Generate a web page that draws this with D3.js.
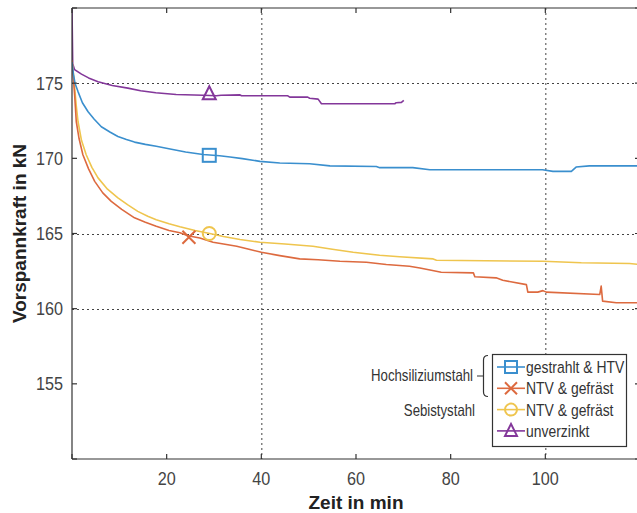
<!DOCTYPE html>
<html>
<head>
<meta charset="utf-8">
<script src="https://cdn.jsdelivr.net/npm/d3@7"></script>
<style>
  body { margin: 0; background: #fff; }
  svg { display: block; font-family: "Liberation Sans", Arial, sans-serif; }
</style>
</head>
<body>
<div class="chart"></div>
<script>
// Messwerte: [Zeit in min, Vorspannkraft in kN]
var gestrahltHTV = [[0,176.4],[0.3,175.6],[0.63,175.0],[1.27,174.44],[2.2,173.7],[3.4,173.1],[4.7,172.6],[6.2,172.1],[8,171.75],[9.7,171.45],[11.5,171.25],[13.2,171.08],[15.5,170.93],[17.8,170.8],[21,170.6],[24,170.42],[27.7,170.25],[31.2,170.17],[33.4,170.09],[36,169.98],[39.7,169.8],[43.9,169.69],[50.2,169.64],[54.5,169.5],[64.3,169.46],[65,169.38],[72,169.38],[75.6,169.24],[99.4,169.24],[101.6,169.13],[105.5,169.13],[106.5,169.42],[109.3,169.5],[120,169.5]]
var ntvHoch = [[0,176.5],[0.3,175.3],[0.56,174.2],[0.9,172.45],[1.5,171.3],[2.3,170.24],[3.5,169.3],[4.8,168.47],[6.5,167.7],[8.3,167.14],[10.5,166.6],[13.2,166.04],[15.5,165.75],[17.8,165.48],[20.5,165.2],[22.8,165.05],[24.5,164.85],[27,164.7],[29.8,164.42],[32,164.3],[34.8,164.15],[37.6,163.93],[40,163.75],[43.9,163.53],[48.1,163.31],[52,163.25],[56.6,163.15],[62.2,163.09],[66.4,162.94],[71.3,162.82],[73.5,162.71],[75.9,162.55],[78,162.42],[84.8,162.38],[85.1,162.12],[89.6,162.05],[91,161.89],[96,161.6],[96.3,161.1],[98.4,161.1],[99.5,161.2],[100.2,161.1],[111.5,160.94],[111.8,161.5],[112.1,160.5],[115,160.39],[120,160.39]]
var ntvSebisty = [[0,176.5],[0.3,175.6],[0.56,174.7],[0.9,173.5],[1.27,172.45],[2,171.2],[3,170.24],[4.2,169.4],[5.5,168.7],[7.5,167.95],[9.7,167.37],[11.8,166.9],[13.9,166.47],[16,166.15],[17.8,165.92],[20.5,165.65],[22.8,165.45],[26,165.2],[29.1,165.0],[32,164.8],[35.5,164.6],[39.7,164.42],[45,164.3],[50.9,164.15],[55,163.95],[59.4,163.75],[65,163.55],[69.2,163.45],[76.3,163.31],[77,163.22],[99.5,163.15],[107.6,163.05],[117.8,163.0],[120,162.93]]
var unverzinkt = [[0,180],[0.15,176.3],[0.55,175.9],[2,175.6],[3.5,175.35],[5.5,175.1],[8.5,174.85],[11.8,174.67],[14.5,174.5],[17.7,174.36],[22,174.25],[27.7,174.2],[30.5,174.16],[31.5,174.2],[35.5,174.22],[35.8,174.16],[45.6,174.16],[46,174.07],[49.8,174.07],[50.2,174.0],[52,173.94],[52.7,173.63],[68.2,173.63],[68.5,173.7],[69.6,173.72],[70.1,173.85]]

var serien = [
  { name: "gestrahlt & HTV", data: gestrahltHTV, color: "#3a8fce", marker: "square", at: [29, 170.2] },
  { name: "NTV & gefräst", data: ntvHoch, color: "#dd6a3f", marker: "cross", at: [24.7, 164.75] },
  { name: "NTV & gefräst", data: ntvSebisty, color: "#efc54e", marker: "circle", at: [29, 165.0] },
  { name: "unverzinkt", data: unverzinkt, color: "#83379a", marker: "triangle", at: [29, 174.3] }
]

var xTicks = [0, 20, 40, 60, 80, 100, 120]
var xLabels = [20, 40, 60, 80, 100]
var yTicks = [150, 155, 160, 165, 170, 175, 180]
var yLabels = [155, 160, 165, 170, 175]
var xGrid = [40, 100]
var yGrid = [160, 165, 175]

var width = 637, height = 513
var margin = { top: 8, left: 72, right: -3, bottom: 54 }

var x = d3.scaleLinear().domain([0, 120]).range([margin.left, width - margin.right])
var y = d3.scaleLinear().domain([150, 180]).range([height - margin.bottom, margin.top])

var svg = d3.select(".chart").append("svg")
    .attr("width", width)
    .attr("height", height)

svg.append("defs").append("clipPath").attr("id", "clip")
    .append("rect")
    .attr("x", x(0)).attr("y", y(180))
    .attr("width", x(120) - x(0)).attr("height", y(150) - y(180))

// schmale Schrift wie im Original (horizontal gestaucht)
function narrowText(g, tx, ty, str, size, sx, anchor) {
    return g.append("text")
        .attr("transform", "translate(" + tx + "," + ty + ") scale(" + sx + ",1)")
        .attr("text-anchor", anchor || "start")
        .attr("font-size", size)
        .attr("fill", "#333")
        .text(str)
}

// grid
var grid = svg.append("g")
    .attr("stroke", "#444")
    .attr("stroke-width", 1)
    .attr("stroke-dasharray", "2,3")
grid.selectAll(".gx").data(xGrid).enter().append("line")
    .attr("x1", d => x(d) + 0.5).attr("x2", d => x(d) + 0.5)
    .attr("y1", y(180)).attr("y2", y(150))
grid.selectAll(".gy").data(yGrid).enter().append("line")
    .attr("x1", x(0)).attr("x2", x(120))
    .attr("y1", d => Math.round(y(d)) + 0.5).attr("y2", d => Math.round(y(d)) + 0.5)

// lines
var line = d3.line()
    .x(d => x(d[0]))
    .y(d => y(d[1]))

var lines = svg.append("g").attr("clip-path", "url(#clip)")
lines.selectAll("path")
    .data(serien.slice().reverse())
    .enter().append("path")
    .attr("fill", "none")
    .attr("stroke", d => d.color)
    .attr("stroke-width", 1.6)
    .attr("stroke-linejoin", "round")
    .attr("d", d => line(d.data))

function drawMarker(g, type, cx, cy, s, color) {
    var m
    if (type == "square") {
        m = g.append("rect").attr("x", cx - s / 2).attr("y", cy - s / 2)
            .attr("width", s).attr("height", s)
    } else if (type == "circle") {
        m = g.append("circle").attr("cx", cx).attr("cy", cy).attr("r", s / 2)
    } else if (type == "cross") {
        var h = s / 2
        m = g.append("path").attr("d", "M" + (cx - h) + "," + (cy - h) + "L" + (cx + h) + "," + (cy + h) +
            "M" + (cx - h) + "," + (cy + h) + "L" + (cx + h) + "," + (cy - h))
    } else {
        var h = s / 2
        m = g.append("path").attr("d", "M" + cx + "," + (cy - h - 1) + "L" + (cx + h) + "," + (cy + h - 1) +
            "L" + (cx - h) + "," + (cy + h - 1) + "Z")
    }
    m.attr("fill", "none").attr("stroke", color).attr("stroke-width", 2)
}

var marks = svg.append("g")
serien.forEach(function (s) {
    drawMarker(marks, s.marker, x(s.at[0]), y(s.at[1]), 13, s.color)
})

// axes box
var axisColor = "#333"
var box = svg.append("g").attr("stroke", axisColor).attr("stroke-width", 1.2).attr("fill", "none")
box.append("line").attr("x1", x(0)).attr("x2", x(0)).attr("y1", y(180)).attr("y2", y(150))
box.append("line").attr("x1", x(0)).attr("x2", x(120)).attr("y1", y(150)).attr("y2", y(150))
box.append("line").attr("x1", x(0)).attr("x2", x(120)).attr("y1", y(180)).attr("y2", y(180))
box.append("line").attr("x1", x(120)).attr("x2", x(120)).attr("y1", y(180)).attr("y2", y(150))

var tl = 5
box.selectAll(".tb").data(xTicks).enter().append("line")
    .attr("x1", d => x(d)).attr("x2", d => x(d))
    .attr("y1", y(150)).attr("y2", y(150) - tl)
box.selectAll(".tt").data(xTicks).enter().append("line")
    .attr("x1", d => x(d)).attr("x2", d => x(d))
    .attr("y1", y(180)).attr("y2", y(180) + tl)
box.selectAll(".tl").data(yTicks).enter().append("line")
    .attr("x1", x(0)).attr("x2", x(0) + tl)
    .attr("y1", d => y(d)).attr("y2", d => y(d))
box.selectAll(".tr").data(yTicks).enter().append("line")
    .attr("x1", x(120)).attr("x2", x(120) - tl)
    .attr("y1", d => y(d)).attr("y2", d => y(d))

xLabels.forEach(function (d) {
    narrowText(svg, x(d), y(150) + 26, d, 18, 0.9, "middle").attr("fill", "#444")
})
yLabels.forEach(function (d) {
    narrowText(svg, x(0) - 9, y(d) + 6.5, d, 18, 0.9, "end").attr("fill", "#444")
})

svg.append("text")
    .attr("x", (x(0) + x(120)) / 2).attr("y", 509)
    .attr("text-anchor", "middle")
    .attr("font-size", 19).attr("font-weight", "bold").attr("fill", "#222")
    .text("Zeit in min")
svg.append("text")
    .attr("transform", "translate(26," + ((y(150) + y(180)) / 2) + ") rotate(-90)")
    .attr("text-anchor", "middle")
    .attr("font-size", 19).attr("font-weight", "bold").attr("fill", "#222")
    .text("Vorspannkraft in kN")

// legend
var lg = svg.append("g")
lg.append("rect")
    .attr("x", 492.5).attr("y", 354.5).attr("width", 134).attr("height", 92)
    .attr("fill", "#fff").attr("stroke", "#333").attr("stroke-width", 1.2)
serien.forEach(function (s, i) {
    var ly = 367 + i * 21.3
    lg.append("line").attr("x1", 497).attr("x2", 525).attr("y1", ly).attr("y2", ly)
        .attr("stroke", s.color).attr("stroke-width", 1.6)
    drawMarker(lg, s.marker, 511, ly, 12, s.color)
    narrowText(lg, 526, ly + 6, s.name, 17, 0.82)
})

// Werkstoff-Beschriftung
narrowText(svg, 473, 381, "Hochsiliziumstahl", 16.5, 0.8, "end")
narrowText(svg, 475, 416, "Sebistystahl", 16.5, 0.8, "end")
svg.append("path")
    .attr("d", "M488,355.5 Q483.5,355.5 483.5,360 L483.5,392 Q483.5,396.5 488,396.5 M477,376 L483.5,376")
    .attr("fill", "none").attr("stroke", "#333").attr("stroke-width", 1.2)
</script>
</body>
</html>
